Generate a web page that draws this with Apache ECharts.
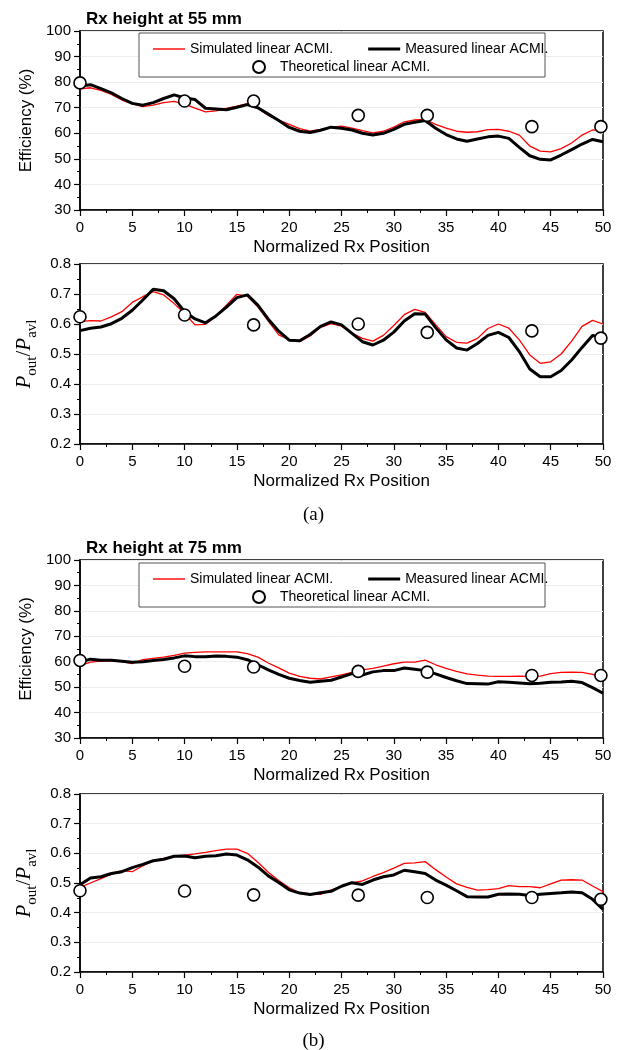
<!DOCTYPE html>
<html>
<head>
<meta charset="utf-8">
<script src="https://cdn.jsdelivr.net/npm/echarts@6/dist/echarts.min.js"></script>
<style>
  html, body { margin: 0; padding: 0; background: #fff; }
  #main { width: 627px; height: 1050px; }
</style>
</head>
<body>
<div id="main"></div>
<script>
// Rx height at 55 mm, efficiency (%), x = 0..50
var sim55Eff = [77.4, 77.8, 76.8, 75.2, 73.0, 71.5, 70.4, 71.0, 72.0, 72.5, 71.4, 69.8, 68.4, 68.8, 69.7, 70.6, 71.6, 70.0, 67.0, 65.2,
  63.5, 61.8, 60.8, 61.5, 62.3, 62.8, 62.0, 61.0, 60.2, 60.8, 62.4, 64.5, 65.2, 65.4, 63.5, 62.0, 60.8, 60.4, 60.6, 61.4,
  61.5, 60.8, 59.3, 55.0, 53.0, 52.7, 54.0, 56.2, 59.3, 61.3, 60.9];
var meas55Eff = [78.5, 79.0, 77.5, 75.8, 73.6, 71.7, 71.0, 72.0, 73.6, 75.0, 73.8, 73.2, 69.8, 69.5, 69.2, 70.2, 71.2, 70.0, 67.5, 65.0,
  62.3, 60.8, 60.3, 61.2, 62.4, 62.0, 61.3, 60.0, 59.3, 60.0, 61.5, 63.5, 64.3, 65.0, 62.0, 59.5, 57.8, 56.9, 57.8, 58.6,
  58.9, 58.0, 54.5, 51.2, 49.8, 49.6, 51.5, 53.6, 55.8, 57.6, 56.7];
var theo55Eff = [79.7, 72.6, 72.6, 67.0, 67.0, 62.6, 62.6];

// Rx height at 55 mm, Pout / Pavl
var sim55Pow = [0.608, 0.611, 0.610, 0.624, 0.641, 0.672, 0.691, 0.708, 0.697, 0.668, 0.635, 0.597, 0.599, 0.627, 0.663, 0.699, 0.693, 0.657, 0.610, 0.564,
  0.548, 0.541, 0.560, 0.589, 0.601, 0.593, 0.570, 0.552, 0.543, 0.562, 0.595, 0.631, 0.649, 0.639, 0.598, 0.558, 0.539, 0.536, 0.552, 0.585,
  0.600, 0.586, 0.547, 0.497, 0.469, 0.474, 0.500, 0.543, 0.592, 0.612, 0.600];
var meas55Pow = [0.578, 0.586, 0.590, 0.601, 0.619, 0.646, 0.680, 0.716, 0.711, 0.684, 0.641, 0.617, 0.604, 0.627, 0.656, 0.688, 0.697, 0.663, 0.616, 0.576,
  0.546, 0.544, 0.565, 0.592, 0.607, 0.597, 0.569, 0.541, 0.530, 0.546, 0.573, 0.610, 0.634, 0.633, 0.588, 0.547, 0.520, 0.513, 0.535, 0.562,
  0.572, 0.555, 0.508, 0.450, 0.424, 0.424, 0.445, 0.480, 0.522, 0.562, 0.556];
var theo55Pow = [0.624, 0.630, 0.597, 0.600, 0.572, 0.577, 0.553];

// Rx height at 75 mm, efficiency (%)
var sim75Eff = [58.5, 59.8, 60.2, 60.4, 60.0, 59.3, 60.8, 61.3, 61.8, 62.5, 63.4, 63.7, 63.9, 63.9, 63.9, 63.9, 63.2, 61.8, 59.5, 57.6,
  55.5, 54.2, 53.5, 53.2, 54.0, 54.8, 55.8, 56.8, 57.4, 58.3, 59.2, 59.8, 59.8, 60.6, 58.8, 57.4, 56.2, 55.2, 54.7, 54.3,
  54.2, 54.2, 54.3, 54.2, 54.3, 55.3, 55.8, 55.9, 55.8, 55.0, 53.7];
var meas75Eff = [59.8, 61.0, 60.6, 60.6, 60.2, 59.8, 60.0, 60.5, 60.9, 61.5, 62.3, 62.0, 62.0, 62.2, 62.1, 61.8, 60.8, 58.8, 56.8, 55.0,
  53.5, 52.6, 51.9, 52.3, 52.7, 54.0, 55.3, 54.8, 56.0, 56.5, 56.5, 57.5, 57.0, 56.5, 55.2, 53.8, 52.5, 51.4, 51.3, 51.2,
  52.1, 51.9, 51.6, 51.3, 51.5, 51.9, 52.0, 52.3, 51.8, 49.8, 47.6];
var theo75Eff = [60.5, 58.2, 57.9, 56.2, 55.9, 54.6, 54.6];

// Rx height at 75 mm, Pout / Pavl
var sim75Pow = [0.485, 0.500, 0.515, 0.530, 0.542, 0.538, 0.558, 0.575, 0.583, 0.590, 0.594, 0.598, 0.603, 0.609, 0.614, 0.614, 0.600, 0.570, 0.536, 0.508,
  0.484, 0.467, 0.464, 0.462, 0.476, 0.489, 0.500, 0.507, 0.522, 0.535, 0.550, 0.566, 0.568, 0.572, 0.545, 0.520, 0.497, 0.485, 0.476, 0.478,
  0.481, 0.491, 0.488, 0.488, 0.484, 0.497, 0.510, 0.511, 0.510, 0.490, 0.471];
var meas75Pow = [0.494, 0.517, 0.521, 0.532, 0.538, 0.552, 0.563, 0.575, 0.580, 0.590, 0.591, 0.585, 0.590, 0.592, 0.598, 0.594, 0.578, 0.554, 0.524, 0.502,
  0.477, 0.466, 0.461, 0.467, 0.472, 0.489, 0.501, 0.495, 0.510, 0.521, 0.527, 0.543, 0.538, 0.532, 0.510, 0.493, 0.474, 0.454, 0.453, 0.453,
  0.462, 0.463, 0.462, 0.458, 0.462, 0.465, 0.467, 0.470, 0.467, 0.445, 0.411];
var theo75Pow = [0.474, 0.473, 0.460, 0.459, 0.451, 0.451, 0.445];

// x positions of the theoretical points
var theoPos = [0, 10, 16.6, 26.6, 33.2, 43.2, 49.8];

var SANS = 'Liberation Sans, Arial, sans-serif';
var SERIF = 'Liberation Serif, Times New Roman, serif';

function pairs(vals) {
  var out = [];
  for (var i = 0; i < vals.length; i++) out.push([i, vals[i]]);
  return out;
}
function theoPairs(vals) {
  var out = [];
  for (var i = 0; i < vals.length; i++) out.push([theoPos[i], vals[i]]);
  return out;
}

var grids = [
  { left: 80, top: 31, width: 523, height: 179 },
  { left: 80, top: 264, width: 523, height: 180 },
  { left: 80, top: 560, width: 523, height: 178 },
  { left: 80, top: 794, width: 523, height: 178 }
];
grids.forEach(function (g) {
  g.show = true;
  g.borderColor = '#000';
  g.borderWidth = 1.5;
  g.backgroundColor = 'transparent';
});

function xAxisCfg(idx) {
  return {
    type: 'value', gridIndex: idx, min: 0, max: 50, interval: 5,
    name: 'Normalized Rx Position', nameLocation: 'middle', nameGap: 29,
    nameTextStyle: { fontFamily: SANS, fontSize: 17, color: '#000' },
    axisLine: { lineStyle: { color: '#000', width: 1.5 } },
    axisTick: { length: 6, lineStyle: { color: '#000', width: 1.2 } },
    minorTick: { show: true, splitNumber: 2, length: 3, lineStyle: { color: '#000', width: 1 } },
    axisLabel: { fontFamily: SANS, fontSize: 15, color: '#000', margin: 10 },
    splitLine: { show: false }
  };
}

function yAxisCfg(idx, min, max, interval, name, rich, dec) {
  return {
    type: 'value', gridIndex: idx, min: min, max: max, interval: interval,
    name: name, nameLocation: 'middle', nameRotate: 90, nameGap: 40,
    nameTextStyle: { fontFamily: SANS, fontSize: 17, color: '#000', rich: rich },
    axisLine: { show: true, lineStyle: { color: '#000', width: 1.5 } },
    axisTick: { length: 6, lineStyle: { color: '#000', width: 1.2 } },
    minorTick: { show: true, splitNumber: 2, length: 3, lineStyle: { color: '#000', width: 1 } },
    axisLabel: {
      fontFamily: SANS, fontSize: 15, color: '#000', margin: 9,
      formatter: function (v) { return v.toFixed(dec); }
    },
    splitLine: { show: true, lineStyle: { color: '#ececec', width: 1 } }
  };
}

var powRich = {
  p: { fontFamily: SERIF, fontStyle: 'italic', fontSize: 21, lineHeight: 30, verticalAlign: 'middle', color: '#000' },
  n: { fontFamily: SERIF, fontSize: 21, lineHeight: 30, verticalAlign: 'middle', color: '#000' },
  s: { fontFamily: SERIF, fontSize: 15, lineHeight: 14, verticalAlign: 'bottom', color: '#000' }
};
var powName = '{p|P}{s|out}{n|/}{p|P}{s|avl}';

function panelSeries(idx, sim, meas, theo) {
  return [
    {
      name: 'Simulated linear ACMI.', type: 'line', xAxisIndex: idx, yAxisIndex: idx,
      data: pairs(sim), showSymbol: false, symbol: 'none', z: 3,
      lineStyle: { color: '#ff0000', width: 1.3 }, itemStyle: { color: '#ff0000' }
    },
    {
      name: 'Measured linear ACMI.', type: 'line', xAxisIndex: idx, yAxisIndex: idx,
      data: pairs(meas), showSymbol: false, symbol: 'none', z: 4,
      lineStyle: { color: '#000', width: 3 }, itemStyle: { color: '#000' }
    },
    {
      name: 'Theoretical linear ACMI.', type: 'scatter', xAxisIndex: idx, yAxisIndex: idx,
      data: theoPairs(theo), symbol: 'circle', symbolSize: 12, z: 6,
      itemStyle: { color: '#fff', borderColor: '#000', borderWidth: 1.6, opacity: 1 }
    }
  ];
}

function legendPair(top) {
  return [
    {
      data: [
        { name: 'Simulated linear ACMI.', icon: 'path://M0,0h32v1.4h-32z', itemStyle: { color: '#ff0000', borderWidth: 0 } },
        { name: 'Measured linear ACMI.', icon: 'path://M0,0h34v3h-34z', itemStyle: { color: '#000', borderWidth: 0 } }
      ],
      left: 148, top: top, itemWidth: 32, itemHeight: 14, itemGap: 35,
      textStyle: { fontFamily: SANS, fontSize: 14, color: '#000' }, z: 5
    },
    {
      data: ['Theoretical linear ACMI.'],
      left: 247, top: top + 18, itemWidth: 12, itemHeight: 12,
      textStyle: { fontFamily: SANS, fontSize: 14, color: '#000', padding: [0, 0, 0, 10] }, z: 5
    }
  ];
}

var option = {
  animation: false,
  backgroundColor: '#fff',
  textStyle: { fontFamily: SANS },
  title: [
    { text: 'Rx height at 55 mm', left: 81, top: 6, textStyle: { fontFamily: SANS, fontSize: 17, fontWeight: 'bold', color: '#000' } },
    { text: 'Rx height at 75 mm', left: 81, top: 535, textStyle: { fontFamily: SANS, fontSize: 17, fontWeight: 'bold', color: '#000' } },
    { text: '(a)', left: 'center', top: 501, textStyle: { fontFamily: SERIF, fontSize: 19, fontWeight: 'normal', color: '#000' } },
    { text: '(b)', left: 'center', top: 1027, textStyle: { fontFamily: SERIF, fontSize: 19, fontWeight: 'normal', color: '#000' } }
  ],
  legend: legendPair(37).concat(legendPair(567)),
  graphic: [
    { type: 'rect', shape: { x: 139, y: 33, width: 406, height: 44 }, style: { fill: '#fff', stroke: '#555', lineWidth: 1 }, z: 3 },
    { type: 'rect', shape: { x: 139, y: 563, width: 406, height: 44 }, style: { fill: '#fff', stroke: '#555', lineWidth: 1 }, z: 3 }
  ],
  grid: grids,
  xAxis: [xAxisCfg(0), xAxisCfg(1), xAxisCfg(2), xAxisCfg(3)],
  yAxis: [
    yAxisCfg(0, 30, 100, 10, 'Efficiency (%)', null, 0),
    yAxisCfg(1, 0.2, 0.8, 0.1, powName, powRich, 1),
    yAxisCfg(2, 30, 100, 10, 'Efficiency (%)', null, 0),
    yAxisCfg(3, 0.2, 0.8, 0.1, powName, powRich, 1)
  ],
  series: []
    .concat(panelSeries(0, sim55Eff, meas55Eff, theo55Eff))
    .concat(panelSeries(1, sim55Pow, meas55Pow, theo55Pow))
    .concat(panelSeries(2, sim75Eff, meas75Eff, theo75Eff))
    .concat(panelSeries(3, sim75Pow, meas75Pow, theo75Pow))
};

var chart = echarts.init(document.getElementById('main'));
chart.setOption(option);
</script>
</body>
</html>
